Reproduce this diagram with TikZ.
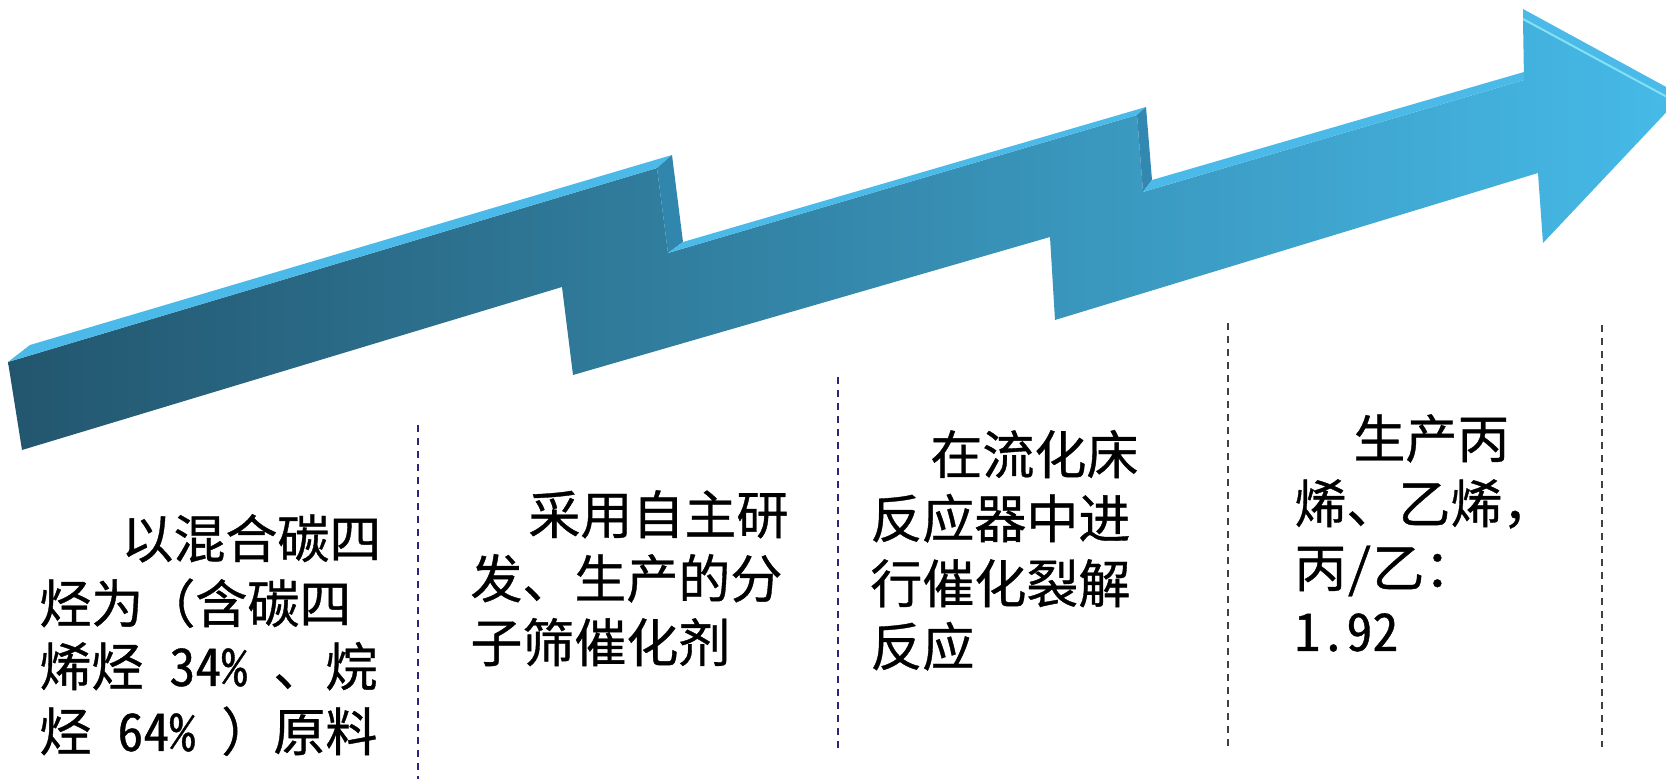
\documentclass[tikz,border=0pt]{standalone}
\usepackage{fontspec}
\newfontfamily\cjk[FakeBold=0.7]{Noto Sans CJK SC}
\newfontfamily\cjkhw[RawFeature=+hwid,FakeBold=0.7]{Noto Sans CJK SC}
\definecolor{arrowdark}{RGB}{35,86,110}
\definecolor{arrowmid}{RGB}{47,126,158}
\definecolor{arrowlight}{RGB}{70,186,232}
\definecolor{bevel}{RGB}{76,186,232}
\definecolor{bevelhi}{RGB}{130,225,245}
\definecolor{sideone}{RGB}{48,134,172}
\definecolor{sidetwo}{RGB}{50,136,176}
\definecolor{navydash}{RGB}{44,38,120}
\definecolor{graydash}{RGB}{64,64,64}
\begin{document}
\begin{tikzpicture}[x=0.5pt,y=-0.5pt,
  txt/.style={anchor=base west, inner sep=0pt, font=\cjk\fontsize{26}{32}\selectfont, text=black},
  sepnavy/.style={draw=navydash, line width=1.1pt, dash pattern=on 3.5pt off 3pt},
  sepgray/.style={draw=graydash, line width=1.1pt, dash pattern=on 3.5pt off 3pt}]
\useasboundingbox (0,0) rectangle (1666,779);
\clip (0,0) rectangle (1666,779);
\fill[white] (0,0) rectangle (1666,779);

% arrow front face
\shade[left color=arrowdark, middle color=arrowmid, right color=arrowlight]
  (8,362) -- (657,168) -- (668,253) -- (1137,115) -- (1143,192) -- (1524,80)
  -- (1523,20) -- (1676,102) -- (1543,243) -- (1538,173) -- (1055,320)
  -- (1050,237) -- (573,375) -- (562,287) -- (22,450) -- cycle;
% bevels and side faces
\fill[bevel] (8,362) -- (30,345) -- (672,155) -- (657,168) -- cycle;
\fill[sideone] (657,168) -- (672,155) -- (683,242) -- (668,253) -- cycle;
\fill[bevel] (668,253) -- (683,242) -- (1146,107) -- (1137,115) -- cycle;
\fill[sidetwo] (1137,115) -- (1146,107) -- (1152,180) -- (1143,192) -- cycle;
\fill[bevel] (1143,192) -- (1152,180) -- (1524,72) -- (1524,80) -- cycle;
\fill[bevel] (1523,20) -- (1523,9) -- (1690,100) -- (1676,102) -- cycle;
\draw[bevelhi, line width=1pt] (1523,19) -- (1680,104);

% separators
\draw[sepnavy] (418,425) -- (418,779);
\draw[sepnavy] (838,377) -- (838,750);
\draw[sepgray] (1228,323) -- (1228,747);
\draw[sepgray] (1602,325) -- (1602,747);

% block 1
\node[txt] (t1a) at (121,558) {以混合碳四};
\node[txt] (t1b) at (39,623) {烃为（含碳四};
\node[txt] (t1c) at (39,686) {烯烃\hspace{0.5em}{\cjkhw 34\%}\hspace{0.5em}、烷};
\node[txt] (t1d) at (39,751) {烃\hspace{0.5em}{\cjkhw 64\%}\hspace{0.5em}）原料};
% block 2
\node[txt] (t2a) at (528,534) {采用自主研};
\node[txt] (t2b) at (470,598) {发、生产的分};
\node[txt] (t2c) at (470,662) {子筛催化剂};
% block 3
\node[txt] (t3a) at (930,474) {在流化床};
\node[txt] (t3b) at (870,538) {反应器中进};
\node[txt] (t3c) at (870,603) {行催化裂解};
\node[txt] (t3d) at (870,666) {反应};
% block 4
\node[txt] (t4a) at (1353,458) {生产丙};
\node[txt] (t4b) at (1294,523) {烯、乙烯，};
\node[txt] (t4c) at (1294,587) {丙{\cjkhw /}乙：};
\node[txt] (t4d) at (1294,651) {{\cjkhw 1.92}};
\end{tikzpicture}
\end{document}
